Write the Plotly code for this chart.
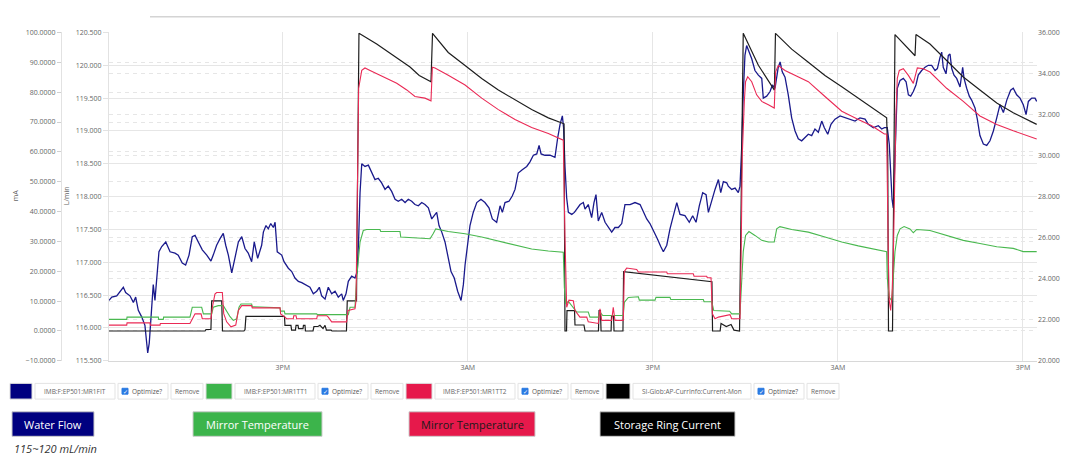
import pandas as pd
import plotly.graph_objects as go

# ---------------------------------------------------------------------------
# Archived PV data (time in hours after the first sample)
# ---------------------------------------------------------------------------
START_TIME = pd.Timestamp("2021-06-14 03:44")
END_HOURS = 60.18

# IMB:F:EP501:MR1FIT  -- water flow, L/min
flow_hours = [
    0.00, 0.18, 0.50, 0.82, 0.93, 1.08, 1.36, 1.58, 1.73, 1.90,
    2.12, 2.33, 2.51, 2.61, 2.72, 2.87, 2.98, 3.09, 3.24, 3.42,
    3.68, 3.96, 4.28, 4.49, 4.75, 4.97, 5.19, 5.40, 5.58, 5.79,
    6.05, 6.34, 6.61, 6.76, 6.98, 7.20, 7.41, 7.57, 7.74, 7.96,
    8.17, 8.39, 8.61, 8.82, 9.03, 9.25, 9.42, 9.64, 9.90, 10.01,
    10.18, 10.33, 10.49, 10.66, 10.77, 10.91, 11.20, 11.35, 11.63, 11.85,
    12.06, 12.28, 12.50, 12.71, 13.03, 13.25, 13.47, 13.64, 13.79, 14.01,
    14.22, 14.44, 14.66, 14.87, 15.09, 15.19, 15.37, 15.52, 15.74, 15.95,
    16.10, 16.19, 16.28, 16.39, 16.60, 16.82, 17.04, 17.25, 17.46, 17.68,
    17.90, 18.11, 18.33, 18.55, 18.76, 18.98, 19.20, 19.41, 19.63, 19.84,
    20.06, 20.28, 20.49, 20.71, 20.93, 21.10, 21.25, 21.40, 21.58, 21.79,
    22.00, 22.18, 22.39, 22.61, 22.83, 22.98, 23.09, 23.26, 23.41, 23.62,
    23.85, 24.12, 24.38, 24.64, 24.86, 25.14, 25.36, 25.51, 25.68, 25.94,
    26.15, 26.33, 26.54, 26.80, 27.09, 27.30, 27.52, 27.74, 27.89, 28.02,
    28.27, 28.60, 28.92, 29.10, 29.25, 29.40, 29.48, 29.57, 29.68, 29.79,
    30.01, 30.18, 30.33, 30.55, 30.76, 30.87, 31.08, 31.30, 31.45, 31.58,
    31.73, 31.95, 32.17, 32.38, 32.60, 32.81, 33.03, 33.25, 33.46, 33.79,
    34.11, 34.44, 34.65, 34.87, 35.08, 35.30, 35.56, 35.78, 35.95, 36.17,
    36.38, 36.60, 36.82, 37.03, 37.35, 37.63, 37.85, 38.07, 38.28, 38.50,
    38.72, 38.87, 39.09, 39.30, 39.52, 39.67, 39.84, 40.06, 40.16, 40.38,
    40.60, 40.81, 40.92, 41.03, 41.13, 41.24, 41.35, 41.50, 41.68, 41.89,
    42.11, 42.33, 42.43, 42.65, 42.87, 43.02, 43.19, 43.40, 43.52, 43.66,
    43.84, 44.05, 44.27, 44.49, 44.70, 44.92, 45.14, 45.35, 45.57, 45.78,
    46.00, 46.22, 46.39, 46.61, 46.82, 47.08, 47.41, 47.73, 48.06, 48.38,
    48.70, 49.03, 49.24, 49.57, 49.89, 50.11, 50.28, 50.47, 50.60, 50.69,
    50.78, 50.86, 50.95, 51.04, 51.12, 51.30, 51.51, 51.69, 51.84, 51.99,
    52.16, 52.33, 52.48, 52.70, 52.92, 53.13, 53.35, 53.57, 53.72, 53.89,
    54.00, 54.10, 54.28, 54.43, 54.54, 54.65, 54.80, 54.97, 55.19, 55.36,
    55.45, 55.62, 55.79, 55.94, 56.16, 56.31, 56.48, 56.70, 56.92, 57.13,
    57.35, 57.57, 57.78, 58.00, 58.22, 58.47, 58.64, 58.86, 59.08, 59.29,
    59.47, 59.62, 59.84, 60.05, 60.16,
]
flow_lpm = [
    116.42, 116.47, 116.49, 116.59, 116.62, 116.54, 116.49, 116.39, 116.47, 116.27,
    116.17, 116.04, 115.62, 115.77, 116.22, 116.66, 116.42, 116.71, 117.16, 117.24,
    117.31, 117.16, 117.14, 117.11, 116.99, 116.96, 117.11, 117.39, 117.41, 117.31,
    117.19, 117.11, 117.02, 117.11, 117.26, 117.36, 117.44, 117.26, 117.11, 116.84,
    117.06, 117.31, 117.39, 117.21, 117.14, 117.01, 117.31, 117.06, 117.26, 117.46,
    117.56, 117.51, 117.59, 117.53, 117.61, 117.16, 117.11, 117.01, 116.91, 116.86,
    116.76, 116.71, 116.69, 116.66, 116.62, 116.52, 116.56, 116.62, 116.49, 116.44,
    116.62, 116.52, 116.56, 116.47, 116.52, 116.42, 116.52, 116.71, 116.79, 116.76,
    116.86, 117.36, 118.06, 118.50, 118.46, 118.48, 118.36, 118.26, 118.28, 118.21,
    118.11, 118.16, 118.08, 117.96, 117.93, 117.96, 117.91, 117.96, 117.93, 117.88,
    117.86, 117.91, 117.88, 117.83, 117.66, 117.71, 117.76, 117.56, 117.46, 117.31,
    117.06, 116.86, 116.76, 116.56, 116.42, 116.66, 116.96, 117.31, 117.56, 117.76,
    117.91, 117.96, 117.91, 117.83, 117.66, 117.61, 117.86, 117.76, 117.91, 117.93,
    118.01, 118.11, 118.36, 118.41, 118.46, 118.53, 118.63, 118.65, 118.78, 118.65,
    118.63, 118.63, 118.60, 118.90, 119.10, 119.23, 119.05, 118.46, 117.98, 117.76,
    117.73, 117.76, 117.81, 117.88, 117.91, 117.81, 117.88, 117.68, 117.91, 118.03,
    117.63, 117.76, 117.61, 117.53, 117.46, 117.53, 117.53, 117.59, 117.88, 117.88,
    117.91, 117.88, 117.76, 117.66, 117.59, 117.49, 117.36, 117.24, 117.16, 117.26,
    117.51, 117.71, 117.91, 117.73, 117.71, 117.61, 117.71, 117.61, 117.86, 118.06,
    118.03, 117.76, 117.96, 118.11, 118.26, 118.06, 118.23, 118.21, 118.16, 118.11,
    118.13, 118.06, 118.16, 118.75, 119.55, 120.15, 120.30, 120.20, 120.10, 119.92,
    119.85, 119.80, 119.50, 119.53, 119.60, 119.70, 119.65, 119.97, 120.05, 119.90,
    119.82, 119.55, 119.20, 119.00, 118.88, 118.85, 118.90, 118.95, 118.93, 119.03,
    118.98, 119.15, 119.05, 118.95, 119.10, 119.18, 119.23, 119.20, 119.18, 119.15,
    119.20, 119.18, 119.10, 119.05, 119.08, 119.03, 119.05, 119.05, 118.80, 118.31,
    117.96, 117.83, 118.41, 119.30, 119.65, 119.77, 119.80, 119.75, 119.55, 119.53,
    119.60, 119.70, 119.85, 119.92, 119.97, 120.00, 120.00, 119.92, 119.95, 120.12,
    120.20, 119.97, 119.87, 120.15, 120.17, 119.95, 119.85, 119.80, 119.67, 119.97,
    119.80, 119.65, 119.53, 119.47, 119.35, 119.18, 118.93, 118.80, 118.78, 118.85,
    119.00, 119.20, 119.40, 119.28, 119.47, 119.62, 119.65, 119.55, 119.50, 119.40,
    119.25, 119.45, 119.50, 119.50, 119.45,
]

# IMB:F:EP501:MR1TT1  -- mirror temperature 1, degC
tt1_hours = [
    0.00, 1.15, 1.17, 3.20, 3.22, 3.52, 3.54, 5.25, 5.40, 6.01,
    6.12, 6.66, 6.76, 7.09, 7.41, 7.57, 7.85, 8.06, 8.28, 8.43,
    8.56, 9.25, 9.29, 11.09, 11.13, 11.37, 11.41, 13.47, 13.51, 15.52,
    15.63, 15.95, 16.06, 16.28, 16.49, 16.71, 17.57, 17.62, 18.87, 18.92,
    20.82, 21.03, 21.19, 22.00, 23.09, 24.17, 25.25, 26.33, 27.41, 28.49,
    29.46, 29.53, 29.62, 29.79, 30.22, 30.33, 31.08, 31.19, 31.73, 31.84,
    32.02, 33.35, 33.42, 33.68, 34.33, 34.39, 35.41, 35.47, 36.38, 36.43,
    38.54, 38.59, 39.09, 39.22, 40.25, 40.38, 40.92, 41.03, 41.13, 41.28,
    41.50, 41.89, 42.33, 42.76, 43.14, 43.30, 43.51, 44.27, 45.35, 46.43,
    47.52, 48.59, 49.67, 50.43, 50.47, 50.60, 50.76, 50.86, 50.97, 51.12,
    51.30, 51.56, 51.94, 52.16, 52.38, 53.24, 54.32, 55.40, 56.48, 57.57,
    58.64, 59.29, 60.16,
]
tt1_degc = [
    22.02, 22.02, 22.13, 22.13, 22.02, 22.02, 22.13, 22.13, 22.61, 22.61,
    22.29, 22.29, 22.61, 22.69, 22.69, 22.50, 22.15, 21.97, 22.05, 22.61,
    22.77, 22.77, 22.64, 22.58, 22.42, 22.42, 22.29, 22.29, 22.25, 22.25,
    22.61, 22.61, 24.05, 25.79, 26.35, 26.40, 26.40, 26.30, 26.30, 26.03,
    25.95, 26.20, 26.43, 26.30, 26.19, 26.03, 25.83, 25.64, 25.45, 25.35,
    25.29, 23.57, 22.77, 22.90, 22.53, 22.38, 22.38, 22.13, 22.13, 22.38,
    22.21, 22.21, 22.85, 23.09, 23.12, 22.96, 22.96, 23.09, 23.09, 22.99,
    22.99, 22.88, 22.88, 22.45, 22.42, 22.29, 22.29, 23.73, 25.32, 26.11,
    26.30, 26.11, 25.87, 25.79, 25.79, 26.43, 26.54, 26.40, 26.27, 26.03,
    25.79, 25.60, 25.45, 25.32, 24.05, 23.09, 22.93, 24.05, 25.32, 26.11,
    26.43, 26.54, 26.43, 26.24, 26.40, 26.35, 26.11, 25.87, 25.72, 25.56,
    25.48, 25.32, 25.32,
]

# IMB:F:EP501:MR1TT2  -- mirror temperature 2, degC
tt2_hours = [
    0.00, 1.15, 1.17, 2.66, 2.68, 3.31, 3.33, 5.25, 5.58, 5.97,
    6.05, 6.61, 6.70, 6.87, 6.98, 7.35, 7.44, 7.63, 7.91, 8.22,
    8.39, 8.61, 9.25, 9.29, 11.09, 11.13, 11.41, 11.52, 11.95, 11.98,
    12.13, 12.17, 13.47, 13.51, 14.12, 14.22, 14.44, 15.41, 15.50, 15.95,
    16.02, 16.10, 16.19, 16.39, 16.60, 16.93, 17.36, 18.01, 18.66, 19.31,
    19.84, 20.49, 20.88, 20.97, 21.14, 22.00, 23.09, 24.17, 25.25, 26.33,
    27.41, 28.49, 29.36, 29.46, 29.57, 29.68, 29.83, 30.11, 30.22, 30.54,
    30.98, 31.08, 31.73, 31.84, 31.95, 32.60, 32.70, 32.81, 33.35, 33.42,
    33.57, 34.22, 34.33, 36.17, 36.21, 37.89, 37.94, 38.76, 38.80, 39.04,
    39.13, 39.30, 39.52, 39.95, 40.27, 40.38, 40.92, 40.99, 41.07, 41.20,
    41.28, 41.42, 41.68, 42.00, 42.33, 42.76, 43.14, 43.23, 43.40, 43.84,
    44.27, 45.35, 46.43, 47.52, 48.59, 49.46, 50.28, 50.43, 50.54, 50.60,
    50.69, 50.78, 50.86, 50.95, 51.04, 51.12, 51.25, 51.51, 51.84, 52.16,
    52.42, 52.81, 53.24, 54.32, 55.40, 56.48, 57.57, 58.64, 59.51, 60.16,
]
tt2_degc = [
    21.74, 21.74, 21.85, 21.85, 21.74, 21.74, 21.82, 21.82, 22.29, 22.29,
    22.05, 22.05, 22.60, 23.25, 23.33, 23.33, 22.30, 21.90, 21.66, 21.74,
    22.45, 22.69, 22.69, 22.58, 22.58, 22.29, 22.13, 22.05, 22.05, 22.20,
    22.20, 22.05, 22.05, 22.20, 22.20, 22.13, 21.90, 21.90, 22.45, 22.53,
    22.93, 28.18, 33.28, 34.15, 34.27, 34.15, 33.99, 33.76, 33.52, 33.20,
    32.88, 32.80, 32.67, 34.31, 34.27, 33.91, 33.44, 32.80, 32.24, 31.76,
    31.37, 31.08, 30.81, 30.75, 26.00, 22.61, 22.96, 22.93, 22.45, 22.13,
    22.13, 21.90, 21.82, 22.53, 21.97, 21.97, 22.61, 21.97, 21.97, 24.36,
    24.52, 24.45, 24.33, 24.33, 24.24, 24.24, 24.12, 24.12, 24.05, 24.05,
    22.29, 22.05, 22.13, 22.20, 22.25, 22.05, 22.05, 25.00, 30.09, 32.64,
    33.60, 33.84, 33.60, 32.96, 32.64, 32.48, 32.32, 34.08, 34.39, 34.15,
    33.99, 33.60, 32.88, 32.16, 31.76, 31.45, 31.05, 31.05, 25.00, 22.93,
    22.45, 23.25, 25.00, 29.78, 32.16, 33.76, 34.15, 34.23, 33.91, 33.52,
    34.27, 34.23, 34.07, 33.28, 32.64, 31.93, 31.52, 31.21, 30.97, 30.81,
]

# SI-Glob:AP-CurrInfo:Current-Mon  -- storage ring current, mA
current_hours = [
    0.00, 6.23, 6.29, 6.61, 6.66, 7.31, 7.36, 8.75, 8.82, 8.88,
    11.38, 11.41, 11.80, 11.84, 12.09, 12.13, 12.26, 12.29, 12.58, 12.61,
    12.71, 12.74, 13.23, 13.29, 13.55, 13.68, 13.88, 14.01, 14.10, 14.40,
    14.46, 15.40, 15.45, 16.05, 16.08, 16.15, 16.21, 17.36, 18.44, 19.52,
    20.12, 20.82, 20.88, 20.98, 22.00, 23.09, 24.17, 25.25, 26.33, 27.41,
    28.49, 29.36, 29.51, 29.57, 29.67, 29.70, 30.19, 30.22, 30.80, 30.87,
    31.74, 31.78, 31.87, 31.91, 32.56, 32.59, 32.72, 32.75, 33.33, 33.37,
    35.73, 37.68, 39.10, 39.14, 39.63, 39.69, 40.03, 40.34, 40.53, 40.89,
    40.96, 41.02, 41.13, 42.11, 43.15, 43.22, 44.27, 45.35, 46.43, 47.52,
    48.59, 49.67, 50.43, 50.50, 50.55, 50.81, 50.86, 50.91, 50.97, 52.27,
    52.33, 53.24, 54.32, 55.40, 56.48, 57.57, 58.64, 60.16,
]
current_ma = [
    0.0, 0.0, 0.5, 0.5, 10.1, 10.1, 0.0, 0.0, 0.5, 4.9,
    4.9, 1.9, 1.9, 0.3, 0.3, 1.9, 1.9, 0.8, 0.8, 1.9,
    1.9, 0.0, 0.0, 1.5, 1.5, 1.9, 0.8, 1.9, 0.3, 0.3,
    0.0, 0.0, 10.1, 10.1, 29.8, 78.0, 99.7, 96.1, 92.2, 88.4,
    85.6, 83.7, 83.5, 99.7, 93.3, 88.9, 84.6, 80.7, 77.4, 74.2,
    71.4, 69.8, 69.4, 0.0, 0.0, 6.8, 6.8, 2.0, 2.0, 0.0,
    0.0, 6.8, 6.8, 0.0, 0.0, 5.0, 5.0, 0.0, 0.0, 19.9,
    18.5, 17.4, 16.5, 0.0, 0.0, 2.5, 1.5, 2.2, 0.3, 0.0,
    29.8, 69.2, 99.7, 89.0, 80.7, 99.7, 94.4, 90.0, 85.6, 81.8,
    78.0, 74.2, 71.4, 59.0, 0.0, 0.0, 37.6, 72.5, 99.3, 92.2,
    99.3, 96.1, 90.6, 85.1, 80.7, 76.4, 73.1, 69.2,
]

# Time axis labels
x_tick_times = ["2021-06-14 15:00", "2021-06-15 03:00", "2021-06-15 15:00",
                "2021-06-16 03:00", "2021-06-16 15:00"]
x_tick_text = ["3PM", "3AM", "3PM", "3AM", "3PM"]

# PV names shown in the selector row and the caption boxes below it
pv_names = ["IMB:F:EP501:MR1FIT", "IMB:F:EP501:MR1TT1",
            "IMB:F:EP501:MR1TT2", "SI-Glob:AP-CurrInfo:Current-Mon"]
caption_labels = ["Water Flow", "Mirror Temperature",
                  "Mirror Temperature", "Storage Ring Current"]
flow_note = "115~120 mL/min"

# ---------------------------------------------------------------------------
# Figure geometry (page pixels)
# ---------------------------------------------------------------------------
W, H = 1065, 456
PLOT_L, PLOT_R, PLOT_T, PLOT_B = 109, 1037, 28, 363


def fx(px):
    return px / W


def fy(py):
    return 1 - py / H


def to_time(hours):
    return [START_TIME + pd.Timedelta(hours=h) for h in hours]


NAVY, GREEN, RED, BLACK = "#000080", "#3cb44b", "#e6194b", "#000000"
GRID = "#e6e6e6"
GRID_DASH = "4px,4px"
TICK_FONT = dict(family="Open Sans, sans-serif", size=7, color="#666666")

fig = go.Figure()
fig.add_trace(go.Scatter(x=to_time(flow_hours), y=flow_lpm, mode="lines",
                         name=pv_names[0], yaxis="y",
                         line=dict(color="#1a1a8c", width=1.3)))
fig.add_trace(go.Scatter(x=to_time(tt1_hours), y=tt1_degc, mode="lines",
                         name=pv_names[1], yaxis="y3",
                         line=dict(color="#49b84f", width=1.1)))
fig.add_trace(go.Scatter(x=to_time(tt2_hours), y=tt2_degc, mode="lines",
                         name=pv_names[2], yaxis="y3",
                         line=dict(color="#ea2a55", width=1.1)))
fig.add_trace(go.Scatter(x=to_time(current_hours), y=current_ma, mode="lines",
                         name=pv_names[3], yaxis="y2",
                         line=dict(color="#1e1e1e", width=1.2)))

fig.update_layout(
    width=W, height=H,
    margin=dict(l=0, r=0, t=0, b=0),
    paper_bgcolor="white", plot_bgcolor="white",
    showlegend=False,
    xaxis=dict(
        domain=[fx(PLOT_L), fx(PLOT_R)],
        range=[START_TIME, START_TIME + pd.Timedelta(hours=END_HOURS)],
        tickvals=[pd.Timestamp(t) for t in x_tick_times], ticktext=x_tick_text,
        showgrid=True, gridcolor=GRID, gridwidth=1,
        showline=True, linecolor="#d8d8d8", ticks="",
        tickfont=TICK_FONT, zeroline=False, anchor="y",
    ),
    yaxis=dict(
        domain=[fy(PLOT_B), fy(PLOT_T)],
        range=[115.5, 120.5], tick0=115.5, dtick=0.5, tickformat=".3f",
        showgrid=True, gridcolor=GRID,
        showline=True, linecolor="#e2e2e2",
        ticks="outside", ticklen=5, tickcolor="#e2e2e2",
        tickfont=TICK_FONT, zeroline=False, anchor="x",
    ),
    yaxis2=dict(
        overlaying="y", anchor="free", position=fx(61), side="left",
        range=[-10, 100], tick0=0, dtick=10, tickformat=".4f",
        showgrid=True, gridcolor=GRID, griddash=GRID_DASH,
        showline=True, linecolor="#e2e2e2",
        ticks="outside", ticklen=4, tickcolor="#d0d0d0",
        tickfont=TICK_FONT, zeroline=False,
    ),
    yaxis3=dict(
        overlaying="y", anchor="x", side="right",
        range=[20, 36], tick0=20, dtick=2, tickformat=".3f",
        showgrid=True, gridcolor=GRID, griddash=GRID_DASH,
        showline=False, ticks="", tickfont=TICK_FONT, zeroline=False,
    ),
)

shapes = []
annotations = []

# axis titles
for title, xpx in (("mA", 15), ("L/min", 66)):
    annotations.append(dict(x=fx(xpx), y=fy(195), xref="paper", yref="paper",
                            text=title, textangle=-90, showarrow=False,
                            xanchor="center", yanchor="middle",
                            font=dict(family="Open Sans, sans-serif", size=7,
                                      color="#666666")))

# thin rule above the chart
shapes.append(dict(type="line", xref="paper", yref="paper",
                   x0=fx(150), x1=fx(940), y0=fy(12), y1=fy(12),
                   line=dict(color="#d4d4d4", width=1.5)))


def box(x0, x1, y0, y1, fill, border="#e3e3e3", width=1):
    shapes.append(dict(type="rect", xref="paper", yref="paper",
                       x0=fx(x0), x1=fx(x1), y0=fy(y1), y1=fy(y0),
                       fillcolor=fill, line=dict(color=border, width=width)))


def label(x, y, text, size=7, color="#555555", anchor="left",
          family="Open Sans, sans-serif", italic=False):
    if italic:
        text = "<i>" + text + "</i>"
    annotations.append(dict(x=fx(x), y=fy(y), xref="paper", yref="paper",
                            text=text, showarrow=False, xanchor=anchor,
                            yanchor="middle",
                            font=dict(family=family, size=size, color=color)))


# PV selector row
ROW_T, ROW_B = 386, 402
ROW_MID = (ROW_T + ROW_B) / 2
row_layout = [
    # swatch x0, swatch x1, name x0, name x1, optimize x0, optimize x1, remove x0, remove x1
    (10, 32, 35, 115, 118, 168, 171, 203),
    (206, 232, 235, 315, 318, 368, 371, 403),
    (406, 432, 435, 515, 518, 568, 571, 603),
    (606, 630, 633, 751, 754, 804, 807, 839),
]
swatches = [NAVY, GREEN, RED, BLACK]
for (s0, s1, n0, n1, o0, o1, r0, r1), colour, name in zip(row_layout, swatches, pv_names):
    box(s0, s1, ROW_T, ROW_B, colour, border="#dddddd")
    box(n0, n1, ROW_T, ROW_B, "white")
    label((n0 + n1) / 2, ROW_MID, name, size=6.5, color="#666666", anchor="center")
    box(o0, o1, ROW_T, ROW_B, "white")
    box(o0 + 4, o0 + 10, ROW_MID - 3, ROW_MID + 3, "#2a7ae2", border="#2a7ae2")
    label(o0 + 7, ROW_MID, "✓", size=6, color="white", anchor="center",
          family="DejaVu Sans")
    label(o0 + 12, ROW_MID, "Optimize?", size=6.5, color="#555555")
    box(r0, r1, ROW_T, ROW_B, "white")
    label((r0 + r1) / 2, ROW_MID, "Remove", size=6.5, color="#666666", anchor="center")

# caption boxes
CAP_T, CAP_B = 415, 440
caption_boxes = [(12, 94), (193, 322), (409, 535), (600, 735)]
caption_fill = [NAVY, GREEN, RED, BLACK]
caption_text_colour = ["white", "white", "#1a1a1a", "white"]
for (c0, c1), fill, tcol, text in zip(caption_boxes, caption_fill,
                                      caption_text_colour, caption_labels):
    box(c0, c1, CAP_T, CAP_B, fill, border="#cccccc")
    label((c0 + c1) / 2, (CAP_T + CAP_B) / 2 + 0.5, text, size=11, color=tcol,
          anchor="center")

label(12, 452, flow_note, size=11, color="#333333", italic=True)

fig.update_layout(shapes=shapes, annotations=annotations)

fig.write_html("out.html")
